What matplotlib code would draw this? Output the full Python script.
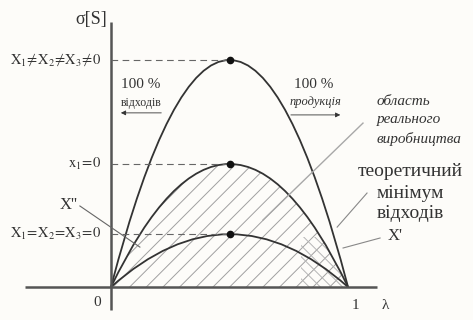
import numpy as np
import matplotlib.pyplot as plt
from matplotlib.path import Path
from matplotlib.patches import PathPatch, Rectangle

# each curve starts at lambda=0, peaks at lambda=0.5 and returns to zero at lambda=1
lam_start, lam_peak, lam_end = 0.0, 0.5, 1.0
peaks = [1.0, 0.542, 0.233]          # sigma at the vertex: top, middle, bottom curve
level_labels = [r'$\mathrm{X}_1\!\neq\!\mathrm{X}_2\!\neq\!\mathrm{X}_3\!\neq\!0$',
                r'$\mathrm{x}_1\!=\!0$',
                r'$\mathrm{X}_1\!=\!\mathrm{X}_2\!=\!\mathrm{X}_3\!=\!0$']
theory_lines = ['теоретичний', 'мінімум', 'відходів']
region_lines = ['область', 'реального', 'виробництва']

plt.rcParams['font.family'] = ['Liberation Serif', 'DejaVu Serif']
plt.rcParams['mathtext.fontset'] = 'stix'
plt.rcParams['hatch.linewidth'] = 0.7

ink = '#333333'
grey = '#8f8f8f'

fig = plt.figure(figsize=(4.73, 3.2), dpi=100, facecolor='#fdfcf9')
ax = fig.add_axes([0, 0, 1, 1])
ax.set_xlim(-0.468, 1.527)
ax.set_ylim(-0.145, 1.264)
ax.axis('off')


def arch(h, close=False):
    # parabola through the three points as a quadratic bezier
    verts = [(lam_start, 0), (lam_peak, 2 * h), (lam_end, 0)]
    codes = [Path.MOVETO, Path.CURVE3, Path.CURVE3]
    if close:
        verts.append((lam_start, 0))
        codes.append(Path.CLOSEPOLY)
    return Path(verts, codes)


# hatched area under the middle curve
hatch = PathPatch(arch(peaks[1], close=True), facecolor='none', edgecolor='#a0a0a0',
                  lw=0, hatch='//')
ax.add_patch(hatch)
corner = Rectangle((0.8, 0), 0.2, 0.22, facecolor='none', edgecolor='#b5b5b5',
                   lw=0, hatch='\\\\\\')
ax.add_patch(corner)
corner.set_clip_path(hatch)

for h in peaks:
    ax.add_patch(PathPatch(arch(h), facecolor='none', edgecolor=ink, lw=1.3))

# axes
ax.plot([0, 0], [-0.101, 1.167], color='#555555', lw=1.8, solid_capstyle='butt')
ax.plot([-0.363, 1.122], [0, 0], color='#555555', lw=1.8, solid_capstyle='butt')

ax.hlines(peaks, 0, lam_peak, colors='#666666', lw=0.8, linestyles=(0, (6, 4)))
ax.plot([lam_peak] * len(peaks), peaks, 'o', color='#111111', ms=4.5)

for h, lab in zip(peaks, level_labels):
    ax.text(-0.042, h, lab, ha='right', va='center', fontsize=10.5, color=ink)

ax.text(-0.084, 1.176, 'σ[S]', ha='center', va='center', fontsize=13, color=ink)
ax.text(-0.059, -0.07, '0', ha='center', va='center', fontsize=11, color=ink)
ax.text(1.03, -0.079, '1', ha='center', va='center', fontsize=11, color=ink)
ax.text(1.156, -0.079, 'λ', ha='center', va='center', fontsize=11, color=ink)

# 100 % captions with arrows
ax.text(0.127, 0.89, '100 %', ha='center', va='center', fontsize=11, color=ink)
ax.text(0.127, 0.811, 'відходів', ha='center', va='center', fontsize=8.5, color=ink)
ax.annotate('', xy=(0.03, 0.767), xytext=(0.224, 0.767),
            arrowprops=dict(arrowstyle='-|>', lw=0.6, color=ink, mutation_scale=7))
ax.text(0.857, 0.894, '100 %', ha='center', va='center', fontsize=11, color=ink)
ax.text(0.861, 0.815, 'продукція', ha='center', va='center', fontsize=9,
        style='italic', color=ink)
ax.annotate('', xy=(0.979, 0.758), xytext=(0.747, 0.758),
            arrowprops=dict(arrowstyle='-|>', lw=0.6, color=ink, mutation_scale=7))

for y, s in zip([0.815, 0.736, 0.652], region_lines):
    ax.text(1.122, y, s, ha='left', va='center', fontsize=11, style='italic', color=ink)
for y, s in zip([0.507, 0.414, 0.322], theory_lines):
    ax.text(1.262, y, s, ha='center', va='center', fontsize=14, color=ink)
ax.text(1.198, 0.225, "X'", ha='center', va='center', fontsize=12, color=ink)
ax.text(-0.139, 0.361, "X''", ha='right', va='center', fontsize=12, color=ink)

# leader lines
ax.plot([-0.131, 0.122], [0.357, 0.176], color='#666666', lw=0.8)
ax.plot([1.063, 0.641], [0.722, 0.295], color='#a8a8a8', lw=1.0)
ax.plot([1.080, 0.954], [0.414, 0.264], color='#888888', lw=0.8)
ax.plot([1.135, 0.979], [0.216, 0.172], color='#888888', lw=0.8)

fig.savefig('out.png', dpi=100, facecolor=fig.get_facecolor())
